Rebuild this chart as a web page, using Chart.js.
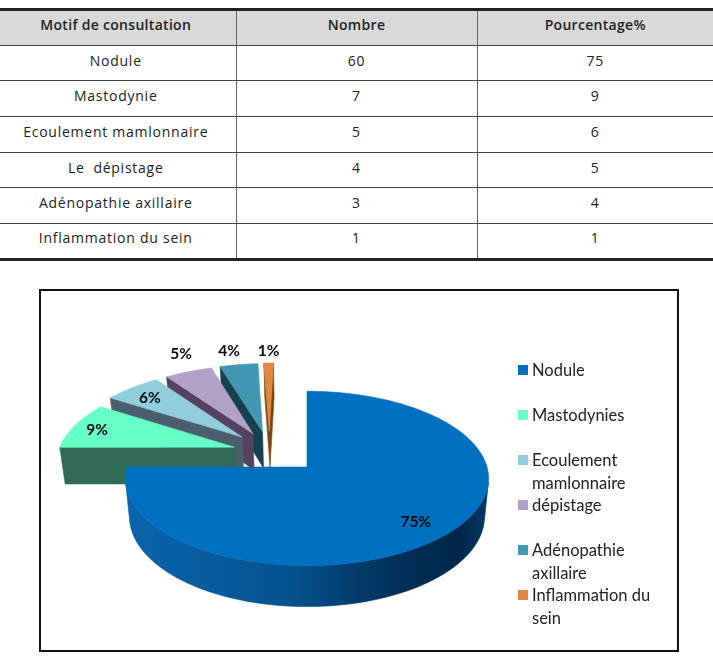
<!DOCTYPE html>
<html lang="fr">
<head>
<meta charset="utf-8">
<title>Motif de consultation</title>
<script src="https://cdn.jsdelivr.net/npm/chart.js@4/dist/chart.umd.min.js"></script>
<style>
  html, body { margin: 0; padding: 0; background: #fff; }
  body { position: relative; width: 713px; height: 666px; overflow: hidden; }
  #motifs {
    position: absolute; left: 0; top: 8px; width: 713px; table-layout: fixed;
    border-collapse: collapse; color: #222;
    font: 14px "Open Sans", sans-serif; letter-spacing: 0.75px; text-align: center;
    border-top: 3px solid #222; border-bottom: 3px solid #222;
  }
  #motifs th, #motifs td {
    box-sizing: border-box; height: 35.7px; padding: 0 0 6px 0;
    border: 1px solid #444; border-left-color: #666; border-right-color: #666;
  }
  #motifs tr > :first-child { border-left: 0; width: 236px; padding-right: 4px; }
  #motifs tr > :last-child { border-right: 0; width: 236px; }
  #motifs tr > :nth-child(2) { width: 241px; }
  #motifs th { background: #d9d9d9; font-weight: 600; letter-spacing: 0.3px; }
  #box { position: absolute; left: 39px; top: 289px; width: 636px; height: 359px; border: 2px solid #111; }
  #pie { position: absolute; left: 0; top: 270px; }
  #legend {
    position: absolute; left: 518px; top: 359px; width: 150px; margin: 0; padding: 0; list-style: none;
    font: 16.5px/22.5px Lato, sans-serif; color: #222;
  }
  #legend li { height: 45px; padding-left: 14px; position: relative; }
  #legend i { position: absolute; left: 0; top: 6px; width: 10px; height: 10px; }
</style>
</head>
<body>
<table id="motifs"><thead></thead><tbody></tbody></table>
<div id="box"></div>
<canvas id="pie" width="713" height="396"></canvas>
<ul id="legend"></ul>
<script>
const tableHeader = ['Motif de consultation', 'Nombre', 'Pourcentage%'];
const motifs = ['Nodule', 'Mastodynie', 'Ecoulement mamlonnaire', 'Le\u00a0 dépistage', 'Adénopathie axillaire', 'Inflammation du sein'];
const counts = [60, 7, 5, 4, 3, 1];
const percents = [75, 9, 6, 5, 4, 1];
const legendLabels = ['Nodule', 'Mastodynies', 'Ecoulement mamlonnaire', 'dépistage', 'Adénopathie axillaire', 'Inflammation du sein'];

const topColors = ['#0070c0', '#66ffc7', '#92cddc', '#b2a1c7', '#4298b0', '#e0883f'];
const sideColors = [null, '#2f6b57', '#4a5f6b', '#54415f', '#17414f', '#7a4512'];

// how far each slice is pulled out of the pie, in pie-plane units
const pullX = [0, -75, -68, -57, -47, -40];
const pullY = [0, -43, -66, -74, -78, -80];
// label distance along the slice axis (fraction of the radius) and small turn in degrees
const labelFrac = [0.81, 0.85, 0.8, 1.3, 1.24, 1.21];
const labelTurn = [1.5, -1, -1.6, 3, -1.5, 0];

// tilted plane with a bit of perspective
const tilt = 0.476, persp = 0.000728, depth = 37.5, lowerScale = 0.978;

function project(el, u, v, lower) {
  const s = 1 / (1 - persp * v);
  const f = lower ? lowerScale : 1;
  return {
    x: el.x + u * s * f,
    y: el.y + v * tilt * s * f + (lower ? depth * s : 0)
  };
}

function fillPoly(ctx, pts, color) {
  ctx.beginPath();
  pts.forEach((p, i) => i ? ctx.lineTo(p.x, p.y) : ctx.moveTo(p.x, p.y));
  ctx.closePath();
  ctx.fillStyle = color;
  ctx.strokeStyle = color;
  ctx.lineWidth = 0.6;
  ctx.fill();
  ctx.stroke();
}

function polyArea(p) {
  let a = 0;
  p.forEach((q, i) => {
    const n = p[(i + 1) % p.length];
    a += q.x * n.y - n.x * q.y;
  });
  return a;
}

// walks the slice outline and merges the edges facing the viewer into wall strips
function wallStrips(el, outline) {
  const count = outline.length;
  const facing = outline.map((p, n) => {
    const q = outline[(n + 1) % count];
    return polyArea([
      project(el, p[0], p[1]), project(el, q[0], q[1]),
      project(el, q[0], q[1], true), project(el, p[0], p[1], true)
    ]) < 0;
  });
  let first = facing.findIndex(f => !f);
  if (first < 0) first = 0;
  const strips = [];
  let strip = null;
  for (let k = 1; k <= count; k++) {
    const n = (first + k) % count;
    if (facing[n]) {
      if (!strip) strip = [n];
      strip.push((n + 1) % count);
    } else if (strip) {
      strips.push(strip);
      strip = null;
    }
  }
  if (strip) strips.push(strip);
  return strips.map(ids => {
    const up = ids.map(n => project(el, outline[n][0], outline[n][1]));
    const down = ids.map(n => project(el, outline[n][0], outline[n][1], true)).reverse();
    return up.concat(down);
  });
}

const pie3d = {
  id: 'pie3d',
  // the library keeps the geometry, the tilted slices are painted here
  beforeDatasetDraw() { return false; },
  afterDatasetsDraw(chart) {
    const ctx = chart.ctx;
    const arcs = chart.getDatasetMeta(0).data;
    const blueSide = ctx.createLinearGradient(125, 0, 490, 0);
    blueSide.addColorStop(0, '#0a64ab');
    blueSide.addColorStop(0.45, '#05528f');
    blueSide.addColorStop(0.75, '#012f57');
    blueSide.addColorStop(0.92, '#00284a');
    blueSide.addColorStop(1, '#033a66');

    for (let i = arcs.length - 1; i >= 0; i--) {
      const el = arcs[i];
      const r = el.outerRadius;
      const outline = [[pullX[i], pullY[i]]];
      const steps = Math.max(4, Math.ceil((el.endAngle - el.startAngle) * 40));
      for (let n = 0; n <= steps; n++) {
        const a = el.startAngle + (el.endAngle - el.startAngle) * n / steps;
        outline.push([pullX[i] + r * Math.cos(a), pullY[i] + r * Math.sin(a)]);
      }
      wallStrips(el, outline).forEach(pts => fillPoly(ctx, pts, sideColors[i] || blueSide));
      fillPoly(ctx, outline.map(p => project(el, p[0], p[1])), el.options.backgroundColor);
    }

    ctx.font = 'bold 15.5px Lato, sans-serif';
    ctx.textAlign = 'center';
    ctx.textBaseline = 'middle';
    ctx.fillStyle = '#0a0a0a';
    arcs.forEach((el, i) => {
      const mid = (el.startAngle + el.endAngle) / 2 + labelTurn[i] * Math.PI / 180;
      const d = el.outerRadius * labelFrac[i];
      const p = project(el, pullX[i] + d * Math.cos(mid), pullY[i] + d * Math.sin(mid));
      ctx.fillText(percents[i] + '%', p.x, p.y);
    });
  }
};

new Chart(document.getElementById('pie'), {
  type: 'pie',
  data: {
    labels: legendLabels,
    datasets: [{
      data: percents,
      backgroundColor: topColors,
      borderWidth: 0
    }]
  },
  options: {
    responsive: false,
    animation: false,
    layout: {
      padding: { left: 127, right: 226, top: 17, bottom: 19 }
    },
    plugins: {
      legend: { display: false },
      tooltip: { enabled: false }
    }
  },
  plugins: [pie3d]
});

// table rows
document.querySelector('#motifs thead').innerHTML =
  '<tr>' + tableHeader.map(h => '<th>' + h + '</th>').join('') + '</tr>';
document.querySelector('#motifs tbody').innerHTML = motifs.map((m, i) =>
  '<tr><td>' + m + '</td><td>' + counts[i] + '</td><td>' + percents[i] + '</td></tr>').join('');

// side legend
document.getElementById('legend').innerHTML = legendLabels.map((l, i) =>
  '<li><i style="background:' + topColors[i] + '"></i>' + l + '</li>').join('');
</script>
</body>
</html>
